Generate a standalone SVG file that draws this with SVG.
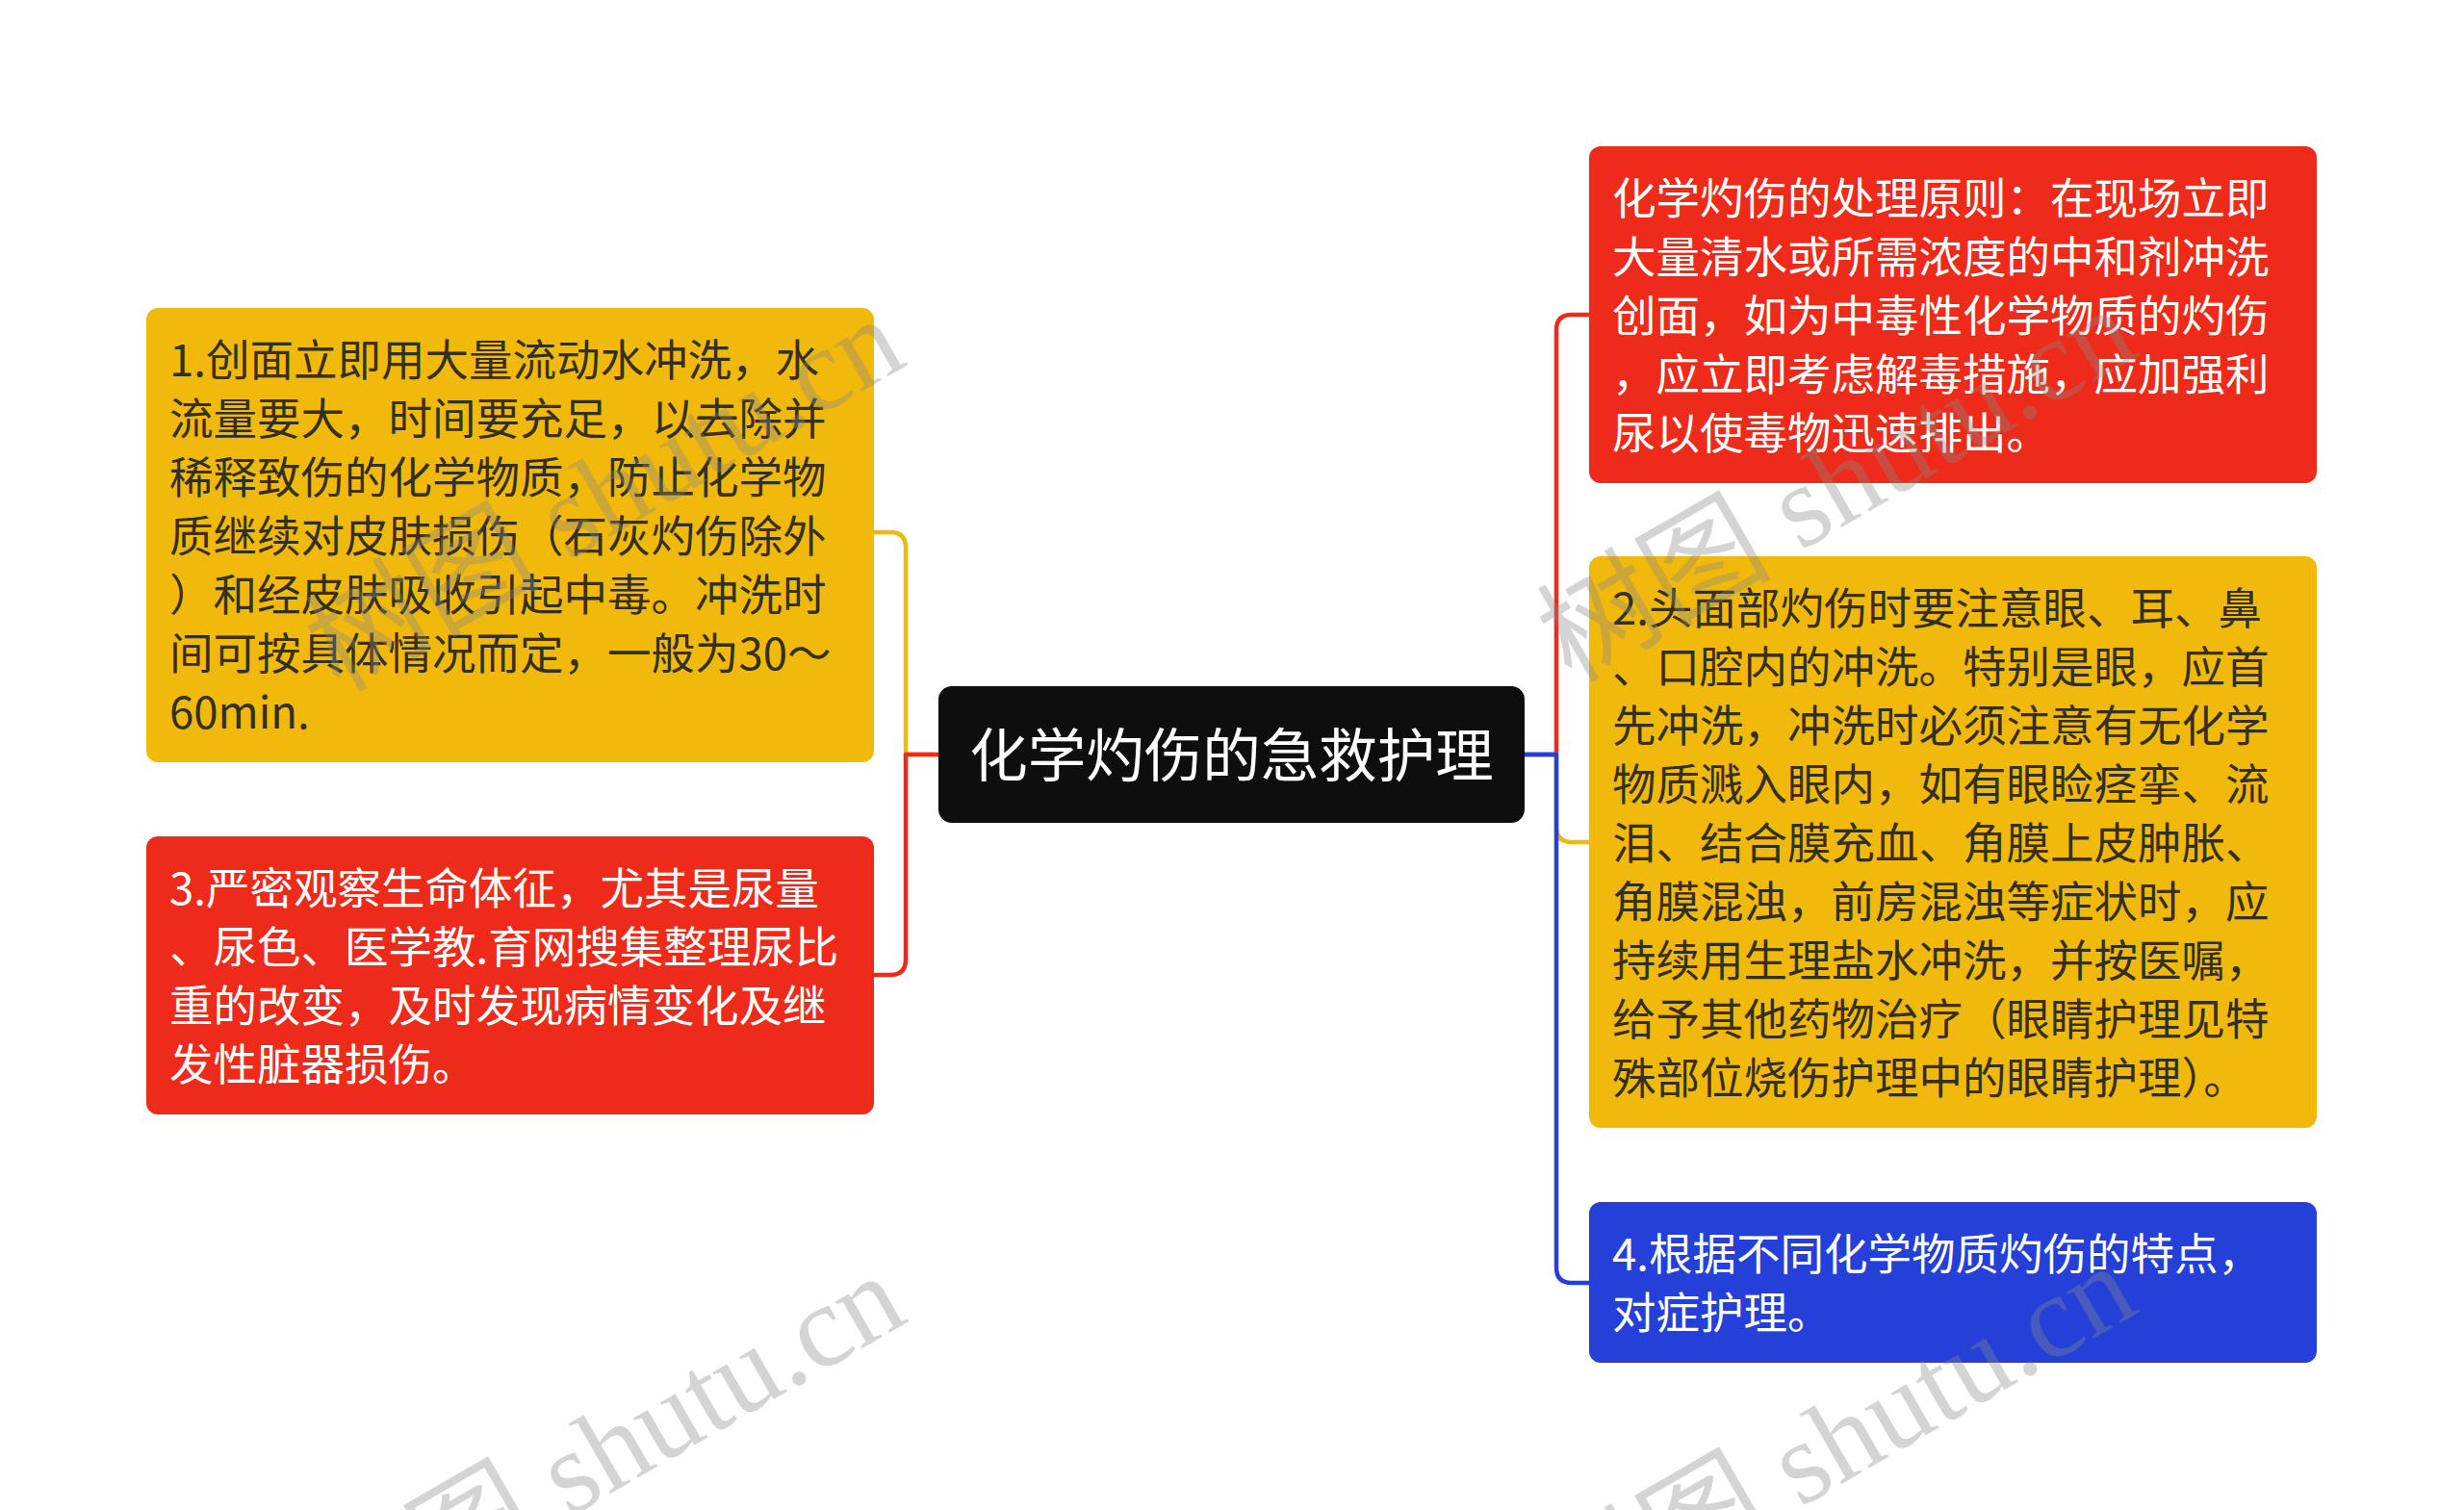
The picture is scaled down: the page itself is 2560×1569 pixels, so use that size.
<svg xmlns="http://www.w3.org/2000/svg" width="2560" height="1569" viewBox="0 0 2560 1569">
<style>
.node-text{font-family:"Noto Sans CJK SC","Noto Sans",sans-serif;font-size:45.5px;}
.dark{fill:#33301f;}
.light{fill:#ffffff;}
.yellow{fill:#F0B90C;}
.red{fill:#EE2B1A;}
.blue{fill:#2440D8;}
.conn{fill:none;stroke-width:4.5;stroke-linejoin:round;stroke-linecap:round;}
.wm{font-family:"Liberation Serif","Noto Sans CJK SC",serif;font-size:122px;fill:#888888;fill-opacity:0.36;}
</style>
<rect width="2560" height="1569" fill="#ffffff"/>
<g id="connectors">
<path class="conn" stroke="#F0B90C" d="M975,784 L941,784 L941,569 Q941,553 925,553 L908,553"/>
<path class="conn" stroke="#EE2B1A" d="M975,784 L941,784 L941,997 Q941,1013 925,1013 L908,1013"/>
<path class="conn" stroke="#EE2B1A" d="M1584,784 L1617,784 L1617,343 Q1617,327 1633,327 L1651,327"/>
<path class="conn" stroke="#F0B90C" d="M1584,784 L1617,784 L1617,859 Q1617,875 1633,875 L1651,875"/>
<path class="conn" stroke="#2440D8" d="M1584,784 L1617,784 L1617,1317 Q1617,1333 1633,1333 L1651,1333"/>
</g>
<g id="center">
<rect x="975" y="713" width="609" height="142" rx="14" fill="#0E0E0E"/>
<text x="1279.5" y="807" text-anchor="middle" font-family="Noto Sans CJK SC, Noto Sans, sans-serif" font-size="60.5" fill="#ffffff">化学灼伤的急救护理</text>
</g>
<g id="node1">
<rect class="yellow" x="152" y="320" width="756" height="472" rx="12"/>
<text class="node-text dark" x="176" y="391">
<tspan x="176" y="391">1.创面立即用大量流动水冲洗，水</tspan>
<tspan x="176" y="452">流量要大，时间要充足，以去除并</tspan>
<tspan x="176" y="513">稀释致伤的化学物质，防止化学物</tspan>
<tspan x="176" y="574">质继续对皮肤损伤（石灰灼伤除外</tspan>
<tspan x="176" y="635">）和经皮肤吸收引起中毒。冲洗时</tspan>
<tspan x="176" y="696">间可按具体情况而定，一般为30～</tspan>
<tspan x="176" y="757">60min.</tspan>
</text>
</g>
<g id="node3">
<rect class="red" x="152" y="869" width="756" height="289" rx="12"/>
<text class="node-text light" x="176" y="940">
<tspan x="176" y="940">3.严密观察生命体征，尤其是尿量</tspan>
<tspan x="176" y="1001">、尿色、医学教.育网搜集整理尿比</tspan>
<tspan x="176" y="1062">重的改变，及时发现病情变化及继</tspan>
<tspan x="176" y="1123">发性脏器损伤。</tspan>
</text>
</g>
<g id="nodeTop">
<rect class="red" x="1651" y="152" width="756" height="350" rx="12"/>
<text class="node-text light" x="1675" y="223">
<tspan x="1675" y="223">化学灼伤的处理原则：在现场立即</tspan>
<tspan x="1675" y="284">大量清水或所需浓度的中和剂冲洗</tspan>
<tspan x="1675" y="345">创面，如为中毒性化学物质的灼伤</tspan>
<tspan x="1675" y="406">，应立即考虑解毒措施，应加强利</tspan>
<tspan x="1675" y="467">尿以使毒物迅速排出。</tspan>
</text>
</g>
<g id="node2">
<rect class="yellow" x="1651" y="578" width="756" height="594" rx="12"/>
<text class="node-text dark" x="1675" y="649">
<tspan x="1675" y="649">2.头面部灼伤时要注意眼、耳、鼻</tspan>
<tspan x="1675" y="710">、口腔内的冲洗。特别是眼，应首</tspan>
<tspan x="1675" y="771">先冲洗，冲洗时必须注意有无化学</tspan>
<tspan x="1675" y="832">物质溅入眼内，如有眼睑痉挛、流</tspan>
<tspan x="1675" y="893">泪、结合膜充血、角膜上皮肿胀、</tspan>
<tspan x="1675" y="954">角膜混浊，前房混浊等症状时，应</tspan>
<tspan x="1675" y="1015">持续用生理盐水冲洗，并按医嘱，</tspan>
<tspan x="1675" y="1076">给予其他药物治疗（眼睛护理见特</tspan>
<tspan x="1675" y="1137">殊部位烧伤护理中的眼睛护理）。</tspan>
</text>
</g>
<g id="node4">
<rect class="blue" x="1651" y="1249" width="756" height="167" rx="12"/>
<text class="node-text light" x="1675" y="1320">
<tspan x="1675" y="1320">4.根据不同化学物质灼伤的特点，</tspan>
<tspan x="1675" y="1381">对症护理。</tspan>
</text>
</g>
<g id="watermarks">
<text class="wm" text-anchor="end" transform="translate(945,378) rotate(-30)">树图 shutu.cn</text>
<text class="wm" text-anchor="end" transform="translate(2225,368) rotate(-30)">树图 shutu.cn</text>
<text class="wm" text-anchor="end" transform="translate(946,1372) rotate(-30)">树图 shutu.cn</text>
<text class="wm" text-anchor="end" transform="translate(2225,1362) rotate(-30)">树图 shutu.cn</text>
</g>
</svg>
